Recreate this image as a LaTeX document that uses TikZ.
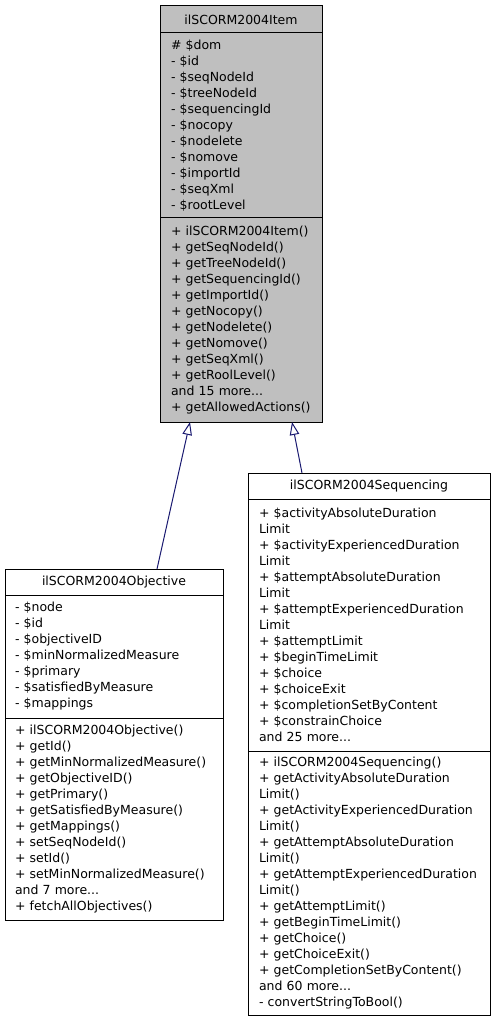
\documentclass[tikz,border=0pt]{standalone}
\usepackage{fontspec}
\setmainfont{DejaVu Sans}
\usetikzlibrary{arrows.meta,positioning}
\definecolor{navy}{RGB}{25,25,112}
\definecolor{shade}{RGB}{191,191,191}
\tikzset{
  part/.style={draw=black,line width=1pt,fill=white,outer sep=0pt,inner ysep=0pt,
    font=\fontsize{12.5}{16}\selectfont},
  head/.style={part,align=center},
  list/.style={part,align=left},
  inherit/.style={draw=navy,line width=1pt,-{Triangle[open,length=13pt,width=9.5pt]}},
}

\begin{document}
\begin{tikzpicture}[x=1pt,y=1pt]
  \useasboundingbox (0,0) rectangle (496,-1024);
  % base class
  \node[head,fill=shade,minimum width=162pt,minimum height=27pt,anchor=north west] (itemName) at (160,-6) {ilSCORM2004Item};
  \node[list,fill=shade,inner xsep=11pt,text width=140pt,minimum height=185pt,below=0pt of itemName] (itemAttrs) {\# \$dom\\- \$id\\- \$seqNodeId\\- \$treeNodeId\\- \$sequencingId\\- \$nocopy\\- \$nodelete\\- \$nomove\\- \$importId\\- \$seqXml\\- \$rootLevel};
  \node[list,fill=shade,inner xsep=11pt,text width=140pt,minimum height=204pt,below=0pt of itemAttrs] (itemOps) {+ ilSCORM2004Item()\\+ getSeqNodeId()\\+ getTreeNodeId()\\+ getSequencingId()\\+ getImportId()\\+ getNocopy()\\+ getNodelete()\\+ getNomove()\\+ getSeqXml()\\+ getRoolLevel()\\and 15 more...\\+ getAllowedActions()};
  % objective
  \node[head,minimum width=218pt,minimum height=26pt,anchor=north west] (objName) at (5,-569) {ilSCORM2004Objective};
  \node[list,inner xsep=10pt,text width=198pt,minimum height=123pt,below=0pt of objName] (objAttrs) {- \$node\\- \$id\\- \$objectiveID\\- \$minNormalizedMeasure\\- \$primary\\- \$satisfiedByMeasure\\- \$mappings};
  \node[list,inner xsep=10pt,text width=198pt,minimum height=202pt,below=0pt of objAttrs] (objOps) {+ ilSCORM2004Objective()\\+ getId()\\+ getMinNormalizedMeasure()\\+ getObjectiveID()\\+ getPrimary()\\+ getSatisfiedByMeasure()\\+ getMappings()\\+ setSeqNodeId()\\+ setId()\\+ setMinNormalizedMeasure()\\and 7 more...\\+ fetchAllObjectives()};
  % sequencing
  \node[head,minimum width=242pt,minimum height=26pt,anchor=north west] (seqName) at (248,-473) {ilSCORM2004Sequencing};
  \node[list,inner xsep=11pt,text width=220pt,minimum height=252pt,below=0pt of seqName] (seqAttrs) {+ \$activityAbsoluteDuration\\Limit\\+ \$activityExperiencedDuration\\Limit\\+ \$attemptAbsoluteDuration\\Limit\\+ \$attemptExperiencedDuration\\Limit\\+ \$attemptLimit\\+ \$beginTimeLimit\\+ \$choice\\+ \$choiceExit\\+ \$completionSetByContent\\+ \$constrainChoice\\and 25 more...};
  \node[list,inner xsep=11pt,text width=220pt,minimum height=264pt,below=0pt of seqAttrs] (seqOps) {+ ilSCORM2004Sequencing()\\+ getActivityAbsoluteDuration\\Limit()\\+ getActivityExperiencedDuration\\Limit()\\+ getAttemptAbsoluteDuration\\Limit()\\+ getAttemptExperiencedDuration\\Limit()\\+ getAttemptLimit()\\+ getBeginTimeLimit()\\+ getChoice()\\+ getChoiceExit()\\+ getCompletionSetByContent()\\and 60 more...\\- convertStringToBool()};
  % inheritance
  \draw[inherit] ([xshift=43pt]objName.north) -- ([xshift=-51pt]itemOps.south);
  \draw[inherit] ([xshift=-67pt]seqName.north) -- ([xshift=51pt]itemOps.south);
\end{tikzpicture}
\end{document}
